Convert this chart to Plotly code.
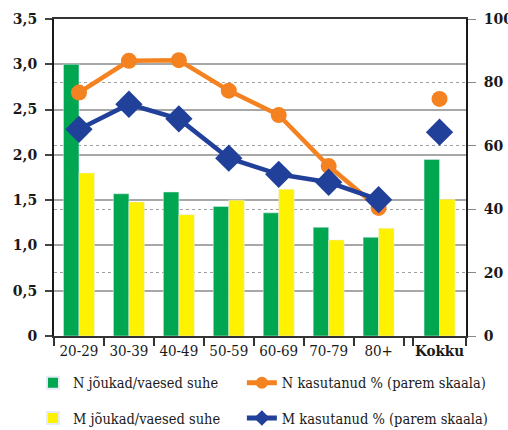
import plotly.graph_objects as go

categories = ["20-29", "30-39", "40-49", "50-59", "60-69", "70-79", "80+", "Kokku"]
n_ratio = [3.00, 1.57, 1.59, 1.43, 1.36, 1.20, 1.09, 1.95]
m_ratio = [1.80, 1.48, 1.34, 1.50, 1.62, 1.06, 1.19, 1.51]
n_used = [76.8, 86.8, 87.0, 77.4, 69.7, 53.6, 40.4, 74.8]
m_used = [65.2, 73.1, 68.5, 56.1, 51.0, 48.5, 43.0, 64.3]
left_ticks = ["0", "0,5", "1,0", "1,5", "2,0", "2,5", "3,0", "3,5"]
right_ticks = ["0", "20", "40", "60", "80", "100"]

# x layout: 7 age groups of width 1, a small gap, then the total group
GAP = 0.19
TOT_W = 1.06
pos = [float(i) for i in range(7)] + [6.5 + GAP + TOT_W / 2]
x_end = 6.5 + GAP + TOT_W
boundaries = [i - 0.5 for i in range(8)] + [6.5 + GAP, x_end]

GREEN = "#00A650"
YELLOW = "#FFF200"
ORANGE = "#F58220"
BLUE = "#21409A"
BW = 0.31
SERIF = "DejaVu Serif"
SERIF_C = "DejaVu Serif Condensed, DejaVu Serif"

fig = go.Figure()
fig.add_bar(x=pos, y=n_ratio, width=BW, offset=-BW, marker_color=GREEN,
            name="N jõukad/vaesed suhe", legend="legend")
fig.add_bar(x=pos, y=m_ratio, width=BW, offset=0, marker_color=YELLOW,
            name="M jõukad/vaesed suhe", legend="legend3")

def broken(vals):
    return vals[:7] + [None] + vals[7:]

xs = pos[:7] + [None] + pos[7:]
fig.add_scatter(x=xs, y=broken(n_used), yaxis="y2", mode="lines+markers",
                line=dict(color=ORANGE, width=4.5), connectgaps=False,
                marker=dict(symbol="circle", size=16, color=ORANGE),
                name="N kasutanud % (parem skaala)", legend="legend2")
fig.add_scatter(x=xs, y=broken(m_used), yaxis="y2", mode="lines+markers",
                line=dict(color=BLUE, width=4.5), connectgaps=False,
                marker=dict(symbol="diamond", size=21, color=BLUE),
                name="M kasutanud % (parem skaala)", legend="legend4")

ticktext_x = categories[:-1] + ["<b>" + categories[-1] + "</b>"]
legend_font = dict(family=SERIF_C, size=14.5, color="#1a1a1a")
legend_common = dict(orientation="v", xanchor="left", yanchor="middle",
                     bgcolor="rgba(0,0,0,0)", itemsizing="constant", font=legend_font)
tick_font = dict(family=SERIF, size=14, color="#1a1a1a", weight="bold")
COL1, COL2 = -0.051, 0.456
ROW1, ROW2 = -0.148, -0.259

fig.update_layout(
    width=508, height=430,
    margin=dict(l=54, r=42, t=19, b=94, autoexpand=False),
    paper_bgcolor="white", plot_bgcolor="white",
    showlegend=True,
    font=dict(family=SERIF, size=15, color="#1a1a1a"),
    xaxis=dict(range=[-0.5, x_end], tickvals=pos, ticktext=ticktext_x,
               ticks="", showgrid=False, zeroline=False, automargin=False,
               showline=True, linecolor="#333333", linewidth=2, mirror=True,
               tickfont=dict(family=SERIF_C, size=15, color="#1a1a1a"),
               minor=dict(tickmode="array", tickvals=boundaries, ticks="outside",
                          ticklen=8, tickwidth=2, tickcolor="#333333", showgrid=False)),
    yaxis=dict(range=[0, 3.5], tickvals=[i * 0.5 for i in range(8)], ticktext=left_ticks,
               ticks="outside", ticklen=7, tickwidth=2, tickcolor="#444444",
               ticklabelstandoff=5, automargin=False,
               showgrid=True, gridcolor="#A8A8A8", gridwidth=1.5,
               zeroline=False, showline=True, linecolor="#1a1a1a", linewidth=2,
               tickfont=tick_font),
    yaxis2=dict(range=[0, 100], tickvals=[0, 20, 40, 60, 80, 100], ticktext=right_ticks,
                overlaying="y", side="right", automargin=False,
                ticks="outside", ticklen=8, tickwidth=1, tickcolor="#888888",
                ticklabelstandoff=5,
                showgrid=True, gridcolor="#A0A0A0", gridwidth=1, griddash="dot",
                zeroline=False, showline=True, linecolor="#1a1a1a", linewidth=2,
                tickfont=tick_font),
    legend=dict(legend_common, x=COL1, y=ROW1),
    legend2=dict(legend_common, x=COL2, y=ROW1),
    legend3=dict(legend_common, x=COL1, y=ROW2),
    legend4=dict(legend_common, x=COL2, y=ROW2),
)

fig.write_html("out.html", config={"displayModeBar": False},
               post_script="document.body.style.margin='0';")
